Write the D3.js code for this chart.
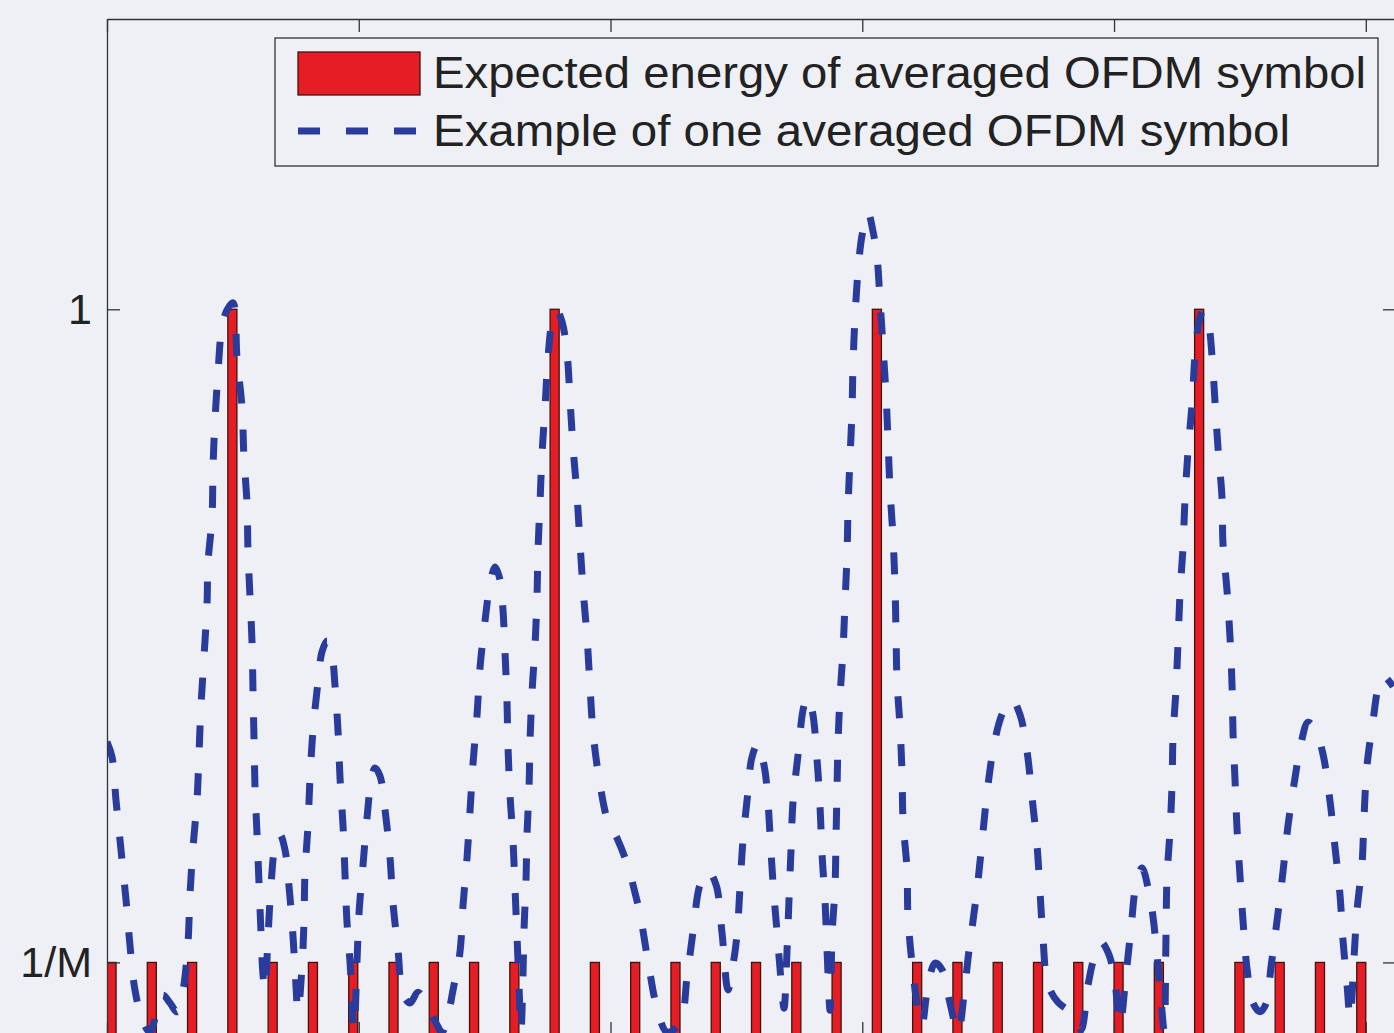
<!DOCTYPE html>
<html>
<head>
<meta charset="utf-8">
<script src="https://cdn.jsdelivr.net/npm/d3@7"></script>
<style>
    html, body { margin: 0; padding: 0; background: #eef0f5; }
    svg { display: block; }
    .axis path, .axis line { stroke: #333; stroke-width: 1.3; }
    .axis text { font-family: "Liberation Sans", Arial, sans-serif; font-size: 43px; fill: #222; }
    .legend text { font-family: "Liberation Sans", Arial, sans-serif; font-size: 44px; fill: #222; }
</style>
</head>
<body>
<div id="chart"></div>
<script>
    // bar centres (sample index) and their expected energy
    var barPos = [0.45, 4.45, 8.45, 12.45, 16.45, 20.45, 24.45, 28.45, 32.45, 36.45, 40.45, 44.45,
        48.45, 52.45, 56.45, 60.45, 64.45, 68.45, 72.45, 76.45, 80.45, 84.45, 88.45, 92.45,
        96.45, 100.45, 104.45, 108.45, 112.45, 116.45, 120.45, 124.55];
    var barEnergy = [0.1, 0.1, 0.1, 1, 0.1, 0.1, 0.1, 0.1, 0.1, 0.1, 0.1, 1,
        0.1, 0.1, 0.1, 0.1, 0.1, 0.1, 0.1, 1, 0.1, 0.1, 0.1, 0.1,
        0.1, 0.1, 0.1, 1, 0.1, 0.1, 0.1, 0.1];

    // one averaged OFDM symbol: [sample, energy]
    var symbolCurve = [
        [0,0.404],[0.5,0.383],[0.89,0.324],[1.39,0.255],[1.89,0.186],[2.28,0.124],[2.78,0.062],[3.58,0.018],[4.27,0.004],[4.97,0.034],
        [5.56,0.055],[6.26,0.044],[6.95,0.032],[7.55,0.062],[8.04,0.127],[8.24,0.193],[8.54,0.258],[8.94,0.324],[9.14,0.389],[9.33,0.453],
        [9.63,0.52],[9.93,0.593],[10.03,0.65],[10.43,0.714],[10.53,0.783],[10.72,0.846],[11.02,0.912],[11.42,0.976],[11.92,0.999],[12.51,1.009],
        [12.91,0.933],[13.41,0.864],[13.6,0.796],[13.9,0.733],[14.0,0.668],[14.2,0.604],[14.4,0.542],[14.5,0.473],[14.6,0.407],[14.7,0.34],
        [14.9,0.276],[15.09,0.211],[15.29,0.142],[15.49,0.083],[15.69,0.062],[15.99,0.136],[16.29,0.207],[16.68,0.259],[17.18,0.276],[17.68,0.255],
        [17.97,0.22],[18.37,0.156],[18.67,0.092],[18.97,0.032],[19.37,0.096],[19.56,0.156],[19.66,0.223],[19.96,0.289],[20.16,0.354],[20.46,0.42],
        [20.95,0.486],[21.35,0.528],[21.85,0.543],[22.34,0.524],[22.64,0.482],[22.94,0.419],[23.14,0.354],[23.44,0.288],[23.63,0.223],[23.83,0.156],
        [24.13,0.101],[24.53,0.007],[24.83,0.103],[25.03,0.169],[25.42,0.234],[25.82,0.299],[26.22,0.349],[26.61,0.368],[27.11,0.357],[27.61,0.31],
        [28.1,0.245],[28.4,0.182],[28.9,0.117],[29.39,0.056],[30.09,0.044],[30.88,0.059],[31.78,0.041],[32.77,0.014],[33.27,0.004],[33.96,0.034],
        [34.36,0.062],[35.05,0.114],[35.35,0.178],[35.75,0.244],[36.05,0.309],[36.35,0.375],[36.74,0.44],[37.04,0.506],[37.54,0.571],[38.03,0.621],
        [38.53,0.645],[39.03,0.627],[39.32,0.586],[39.52,0.528],[39.72,0.46],[39.82,0.397],[40.02,0.331],[40.32,0.267],[40.52,0.201],[40.72,0.134],
        [40.91,0.069],[41.11,0.006],[41.31,0.083],[41.41,0.145],[41.61,0.214],[41.71,0.277],[41.91,0.342],[42.01,0.407],[42.21,0.473],[42.51,0.539],
        [42.7,0.604],[42.8,0.668],[43.0,0.734],[43.2,0.801],[43.5,0.865],[43.79,0.933],[44.19,0.981],[44.69,0.998],
        [45.18,0.983],[45.68,0.94],[45.98,0.875],[46.28,0.81],[46.67,0.744],[46.97,0.678],[47.27,0.615],[47.67,0.548],[47.96,0.482],[48.26,0.418],
        [48.86,0.354],[49.75,0.294],[50.65,0.271],[51.74,0.232],[52.43,0.196],[52.93,0.167],[53.72,0.102],[54.62,0.037],[55.61,0.004],[56.9,0.017],
        [57.6,0.08],[58.19,0.142],[58.89,0.207],[59.68,0.226],[60.48,0.207],[61.07,0.141],[61.67,0.062],[62.16,0.096],[62.56,0.138],[62.86,0.204],
        [63.16,0.269],[63.65,0.335],[64.05,0.383],[64.65,0.402],[65.24,0.372],[65.54,0.34],[65.84,0.276],[66.14,0.209],[66.53,0.143],[66.93,0.076],
        [67.23,0.037],[67.53,0.117],[67.73,0.189],[67.92,0.254],[68.12,0.321],[68.62,0.386],[69.12,0.448],[69.51,0.466],[70.01,0.448],[70.51,0.379],
        [70.81,0.313],[71.01,0.248],[71.3,0.185],[71.5,0.117],[71.8,0.034],[72.0,0.138],[72.29,0.203],[72.39,0.271],[72.49,0.336],[72.59,0.402],
        [72.79,0.466],[73.09,0.531],[73.29,0.597],[73.49,0.663],[73.59,0.728],[73.78,0.794],[73.98,0.86],[74.08,0.923],[74.28,0.989],[74.58,1.053],
        [74.98,1.102],[75.57,1.133],[76.07,1.107],[76.46,1.073],[76.76,1.013],[77.06,0.948],[77.36,0.882],[77.56,0.817],[77.76,0.751],[78.05,0.686],
        [78.25,0.619],[78.35,0.554],[78.45,0.489],[78.75,0.424],[78.95,0.36],[79.05,0.295],[79.44,0.229],[79.54,0.163],[79.94,0.099],[80.54,0.034],
        [80.93,0.014],[81.53,0.069],[82.23,0.099],[82.92,0.09],[83.71,0.044],[84.51,0.004],[85.2,0.069],[85.6,0.117],[85.9,0.147],[86.49,0.212],
        [86.99,0.28],[87.49,0.345],[88.18,0.407],[88.98,0.445],[89.87,0.462],[90.67,0.441],[91.36,0.391],[91.86,0.327],[92.35,0.262],[92.65,0.198],
        [92.95,0.132],[93.45,0.069],[94.44,0.045],[95.43,0.034],[96.13,0.021],[96.72,0.007],[97.42,0.069],[98.01,0.106],[98.71,0.128],[99.4,0.114],
        [100.0,0.083],[100.6,0.014],[101.19,0.083],[101.69,0.147],[102.18,0.207],[102.78,0.23],[103.48,0.196],[103.87,0.163],[104.27,0.11],[104.67,0.048],
        [104.97,0.007],[105.16,0.138],[105.26,0.216],[105.56,0.282],[105.76,0.345],[105.86,0.411],[106.16,0.478],[106.36,0.543],[106.55,0.608],[106.85,0.672],
        [107.05,0.739],[107.35,0.805],[107.75,0.87],[108.04,0.936],[108.44,0.983],[108.84,0.998],
        [109.34,0.983],[109.73,0.936],[110.03,0.872],[110.33,0.808],[110.72,0.741],[110.82,0.677],[111.22,0.612],[111.52,0.547],[111.72,0.481],[111.82,0.415],
        [112.02,0.35],[112.21,0.285],[112.51,0.219],[112.81,0.157],[113.21,0.091],[113.8,0.044],[114.5,0.032],[115.09,0.043],[115.59,0.094],[116.19,0.158],
        [116.78,0.225],[117.28,0.289],[117.97,0.354],[118.57,0.402],[119.27,0.431],[120.06,0.418],[120.75,0.387],[121.45,0.322],[121.95,0.258],[122.44,0.193],
        [122.74,0.13],[123.14,0.069],[123.44,0.023],[123.83,0.106],[124.13,0.172],[124.63,0.236],[124.83,0.302],[125.12,0.371],[125.72,0.433],[126.22,0.478],
        [126.71,0.495],[127.71,0.48]
    ];

    var xTicks = [0, 25, 50, 75, 100, 125];
    var yTicks = [0.1, 1];
    var yTickLabels = ["1/M", "1"];
    var legendLabels = ["Expected energy of averaged OFDM symbol", "Example of one averaged OFDM symbol"];

    var margin = {top: 19, right: -2, bottom: -2, left: 107},
        outerW = 1394,
        outerH = 1033,
        width = outerW - margin.left - margin.right,
        height = outerH - margin.top - margin.bottom;

    var svg = d3.select("#chart").append("svg")
        .attr("width", outerW)
        .attr("height", outerH);

    var g = svg.append("g")
        .attr("transform", "translate(" + margin.left + "," + margin.top + ")");

    var x = d3.scaleLinear().domain([0, 128]).range([0, width]),
        y = d3.scaleLinear().domain([0, 1.4]).range([height, 0]);

    g.append("clipPath").attr("id", "plot-clip")
        .append("rect").attr("width", width).attr("height", height);

    var barW = 0.9;

    g.append("g").attr("clip-path", "url(#plot-clip)")
        .selectAll(".bar")
        .data(barPos)
        .enter().append("rect")
        .attr("class", "bar")
        .attr("x", function(d) { return x(d - barW / 2); })
        .attr("width", x(barW) - x(0))
        .attr("y", function(d, i) { return y(barEnergy[i]); })
        .attr("height", function(d, i) { return y(0) - y(barEnergy[i]); })
        .style("fill", "#e61d25")
        .style("stroke", "#3b1610")
        .style("stroke-width", 1.3);

    var line = d3.line()
        .x(function(d) { return x(d[0]); })
        .y(function(d) { return y(d[1]); })
        .curve(d3.curveCatmullRom.alpha(0.5));

    g.append("path")
        .datum(symbolCurve)
        .attr("clip-path", "url(#plot-clip)")
        .attr("d", line)
        .style("fill", "none")
        .style("stroke", "#2a3c9b")
        .style("stroke-width", 7)
        .style("stroke-dasharray", "22,26");

    // axes box with inward ticks
    g.append("g").attr("class", "axis axis--top")
        .call(d3.axisTop(x).tickValues(xTicks).tickFormat("").tickSizeInner(-13).tickSizeOuter(0));
    g.append("g").attr("class", "axis axis--bottom")
        .attr("transform", "translate(0," + height + ")")
        .call(d3.axisBottom(x).tickValues(xTicks).tickFormat("").tickSizeInner(-13).tickSizeOuter(0));
    g.append("g").attr("class", "axis axis--left")
        .call(d3.axisLeft(y).tickValues(yTicks)
            .tickFormat(function(d, i) { return yTickLabels[i]; })
            .tickSizeInner(-13).tickSizeOuter(0).tickPadding(15));
    g.append("g").attr("class", "axis axis--right")
        .attr("transform", "translate(" + width + ",0)")
        .call(d3.axisRight(y).tickValues(yTicks).tickFormat("").tickSizeInner(-13).tickSizeOuter(0));

    // legend
    var legend = svg.append("g").attr("class", "legend");
    legend.append("rect")
        .attr("x", 275).attr("y", 38)
        .attr("width", 1103).attr("height", 128)
        .style("fill", "#eef0f5")
        .style("stroke", "#333")
        .style("stroke-width", 1.3);
    legend.append("rect")
        .attr("x", 298).attr("y", 52)
        .attr("width", 122).attr("height", 43)
        .style("fill", "#e61d25")
        .style("stroke", "#3b1610")
        .style("stroke-width", 1.3);
    legend.append("line")
        .attr("x1", 298).attr("x2", 420)
        .attr("y1", 131).attr("y2", 131)
        .style("stroke", "#2a3c9b")
        .style("stroke-width", 7)
        .style("stroke-dasharray", "22,26");
    legend.append("text")
        .attr("x", 433).attr("y", 88)
        .attr("textLength", 933)
        .attr("lengthAdjust", "spacingAndGlyphs")
        .text(legendLabels[0]);
    legend.append("text")
        .attr("x", 433).attr("y", 146)
        .attr("textLength", 857)
        .attr("lengthAdjust", "spacingAndGlyphs")
        .text(legendLabels[1]);
</script>
</body>
</html>
